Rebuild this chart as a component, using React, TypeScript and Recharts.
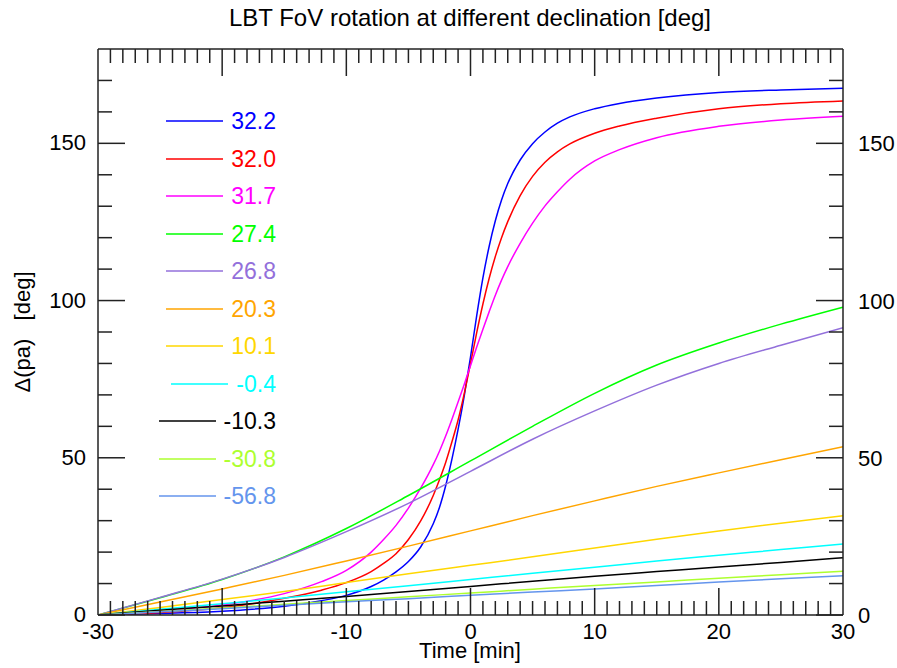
import { LineChart, Line, XAxis, YAxis } from 'recharts';

// time grids [min]
const timeFine = [
  -30, -25, -20, -15, -12, -10, -8, -7, -6, -5, -4, -3, -2.5, -2, -1.5, -1, -0.5, 0, 0.5, 1, 1.5, 2, 2.5, 3, 4, 5, 6, 7,
  8, 10, 12, 15, 20, 25, 30,
];
const timeCoarse = [-30, -25, -20, -15, -10, -5, 0, 5, 10, 15, 20, 25, 30];

// delta parallactic angle [deg]
const dec322 = [
  0, 0.5, 1.2, 2.8, 4.55, 6.25, 9.05, 11.1, 13.7, 17, 21.7, 29, 34.2, 41.1, 49.5, 59, 69.8, 82, 95.2, 107.2, 117.2,
  125.4, 132, 137.2, 144.7, 149.9, 153.6, 156.4, 158.4, 161.0, 162.7, 164.4, 166.2, 167.0, 167.5,
];
const dec320 = [
  0, 0.8, 2.3, 5.3, 7.9, 10.3, 13.8, 16.4, 19.5, 24, 30, 38, 43, 48.5, 55, 62, 70.5, 80, 89.8, 98.9, 107, 114, 120,
  125.1, 133.4, 139.5, 144.0, 147.3, 149.8, 153.2, 155.5, 158.0, 161.0, 162.6, 163.5,
];
const dec317 = [
  0, 1.2, 3.2, 6.8, 10.6, 14.2, 20, 24, 28.5, 34, 40.4, 47.8, 52.1, 56.9, 62.2, 67.7, 73.4, 79.3, 85.2, 90.9, 96.4,
  101.7, 106.5, 110.8, 118.2, 124.6, 130.1, 134.6, 138.6, 144.4, 148, 151.8, 155.4, 157.4, 158.6,
];
const dec274 = [0, 5.5, 11.3, 18.5, 27.5, 38, 49, 60, 70.5, 79.5, 86.5, 92.5, 97.9];
const dec268 = [0, 5.6, 11.4, 18.3, 26.5, 35.5, 45.7, 55.9, 64.9, 73.1, 80, 85.8, 91.4];
const dec203 = [0, 4.1, 8.3, 12.6, 17.2, 21.9, 26.75, 31.6, 36.3, 40.9, 45.2, 49.4, 53.5];
const dec101 = [0, 2.4, 4.9, 7.5, 10.3, 13.1, 15.8, 18.5, 21.3, 24.1, 26.7, 29.2, 31.6];
const decM04 = [0, 1.8, 3.6, 5.4, 7.4, 9.3, 11.3, 13.3, 15.2, 17.2, 19.0, 20.8, 22.6];
const decM103 = [0, 1.5, 2.9, 4.4, 5.9, 7.5, 9.1, 10.7, 12.3, 13.8, 15.3, 16.7, 18.2];
const decM308 = [0, 1.1, 2.2, 3.4, 4.6, 5.8, 7.0, 8.2, 9.4, 10.5, 11.7, 12.8, 13.9];
const decM568 = [0, 1.0, 2.0, 3.1, 4.2, 5.2, 6.25, 7.3, 8.3, 9.4, 10.5, 11.5, 12.5];

const decLabels = ['32.2', '32.0', '31.7', '27.4', '26.8', '20.3', '10.1', '-0.4', '-10.3', '-30.8', '-56.8'];
const decColors = [
  '#0000ff', '#ff0000', '#ff00ff', '#00ff00', '#9370db', '#ffa500', '#ffd700', '#00ffff', '#000000', '#adff2f',
  '#6495ed',
];
const decValues = [dec322, dec320, dec317, dec274, dec268, dec203, dec101, decM04, decM103, decM308, decM568];
const decTimes = [timeFine, timeFine, timeFine, timeCoarse, timeCoarse, timeCoarse, timeCoarse, timeCoarse, timeCoarse, timeCoarse, timeCoarse];

const timeTicks = [
  -30, -29, -28, -27, -26, -25, -24, -23, -22, -21, -20, -19, -18, -17, -16, -15, -14, -13, -12, -11, -10, -9, -8, -7,
  -6, -5, -4, -3, -2, -1, 0, 1, 2, 3, 4, 5, 6, 7, 8, 9, 10, 11, 12, 13, 14, 15, 16, 17, 18, 19, 20, 21, 22, 23, 24, 25,
  26, 27, 28, 29, 30,
];
const paTicks = [0, 10, 20, 30, 40, 50, 60, 70, 80, 90, 100, 110, 120, 130, 140, 150, 160, 170];

const series = decLabels.map((label, i) => ({
  label,
  color: decColors[i],
  data: decTimes[i].map((t, j) => ({ t, v: decValues[i][j] })),
}));

const FONT = '"Liberation Sans", Arial, Helvetica, sans-serif';
const AXIS = '#222';

// inward frame ticks, labels only on the majors
const frameTick = (side: 'bottom' | 'top' | 'left' | 'right') => (props: any) => {
  const { x, y, payload } = props;
  const v = payload.value;
  const horizontal = side === 'bottom' || side === 'top';
  const major = horizontal ? v % 10 === 0 : v % 50 === 0;
  const len = major ? 27 : 14;
  const edge = horizontal ? Math.abs(v) === 30 : false;
  let line = null;
  if (!edge) {
    if (side === 'bottom') line = <line x1={x} y1={y} x2={x} y2={y - len} stroke={AXIS} strokeWidth={1.5} />;
    if (side === 'top') line = <line x1={x} y1={y} x2={x} y2={y + len} stroke={AXIS} strokeWidth={1.5} />;
    if (side === 'left') line = <line x1={x} y1={y} x2={x + len} y2={y} stroke={AXIS} strokeWidth={1.5} />;
    if (side === 'right') line = <line x1={x} y1={y} x2={x - len} y2={y} stroke={AXIS} strokeWidth={1.5} />;
  }
  let label = null;
  const txt = { fontFamily: FONT, fontSize: 22, fill: '#000' };
  if (major && side === 'bottom')
    label = (
      <text x={x} y={y + 24} textAnchor="middle" {...txt}>
        {v}
      </text>
    );
  if (major && side === 'left')
    label = (
      <text x={x - 12} y={y + 7} textAnchor="end" {...txt}>
        {v}
      </text>
    );
  if (major && side === 'right')
    label = (
      <text x={x + 15} y={y + 8} textAnchor="start" {...txt}>
        {v}
      </text>
    );
  return (
    <g>
      {line}
      {label}
    </g>
  );
};

const FovChart = () => {
  return (
    <div style={{ position: 'absolute', left: 0, top: 0, width: 897, height: 668, background: '#fff', fontFamily: FONT }}>
      <LineChart width={897} height={668} margin={{ top: 48, right: 0, bottom: 13, left: 38 }}>
        <XAxis
          xAxisId="b"
          type="number"
          dataKey="t"
          domain={[-30, 30]}
          allowDataOverflow
          ticks={timeTicks}
          interval={0}
          height={40}
          tickSize={0}
          tickMargin={0}
          tickLine={false}
          axisLine={{ stroke: AXIS, strokeWidth: 1.5 }}
          tick={frameTick('bottom')}
        />
        <XAxis
          xAxisId="t"
          orientation="top"
          type="number"
          dataKey="t"
          domain={[-30, 30]}
          allowDataOverflow
          ticks={timeTicks}
          interval={0}
          height={1}
          tickSize={0}
          tickMargin={0}
          tickLine={false}
          axisLine={{ stroke: AXIS, strokeWidth: 1.5 }}
          tick={frameTick('top')}
        />
        <YAxis
          yAxisId="l"
          type="number"
          domain={[0, 180]}
          allowDataOverflow
          ticks={paTicks}
          interval={0}
          width={60}
          tickSize={0}
          tickMargin={0}
          tickLine={false}
          axisLine={{ stroke: AXIS, strokeWidth: 1.5 }}
          tick={frameTick('left')}
        />
        <YAxis
          yAxisId="r"
          orientation="right"
          type="number"
          domain={[0, 180]}
          allowDataOverflow
          ticks={paTicks}
          interval={0}
          width={54}
          tickSize={0}
          tickMargin={0}
          tickLine={false}
          axisLine={{ stroke: AXIS, strokeWidth: 1.5 }}
          tick={frameTick('right')}
        />
        {series.map((s) => (
          <Line
            key={s.label}
            xAxisId="b"
            yAxisId="l"
            data={s.data}
            dataKey="v"
            type="monotone"
            stroke={s.color}
            strokeWidth={1.5}
            dot={false}
            isAnimationActive={false}
          />
        ))}
      </LineChart>

      <div style={{ position: 'absolute', left: 0, width: 940, top: 6, textAlign: 'center', fontSize: 24, lineHeight: '24px' }}>
        LBT FoV rotation at different declination [deg]
      </div>
      <div style={{ position: 'absolute', left: 0, width: 940, top: 640, textAlign: 'center', fontSize: 22, lineHeight: '22px' }}>
        Time [min]
      </div>
      <div
        style={{
          position: 'absolute',
          left: 23,
          top: 332,
          transform: 'translate(-50%, -50%) rotate(-90deg)',
          fontSize: 22,
          lineHeight: '22px',
          whiteSpace: 'pre',
        }}
      >
        {'Δ(pa)   [deg]'}
      </div>

      {/* legend: coloured stroke + declination, right aligned */}
      {series.map((s, i) => (
        <div
          key={s.label}
          style={{
            position: 'absolute',
            left: 96,
            width: 180,
            top: Math.round(102 + i * 37.5),
            height: 38,
            display: 'flex',
            justifyContent: 'flex-end',
            alignItems: 'center',
          }}
        >
          <svg width={57} height={4} style={{ marginRight: 8 }}>
            <line x1={0} y1={2} x2={57} y2={2} stroke={s.color} strokeWidth={1.5} />
          </svg>
          <span style={{ color: s.color, fontSize: 23 }}>{s.label}</span>
        </div>
      ))}
    </div>
  );
};

export default function App() {
  return <FovChart />;
}
